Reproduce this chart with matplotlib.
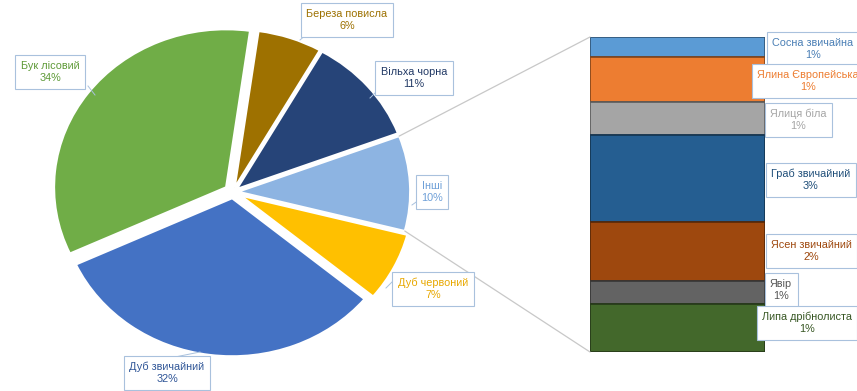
import numpy as np
import matplotlib
from matplotlib import pyplot as plt
from matplotlib.patches import ConnectionPatch
import matplotlib.colors as mcolors

matplotlib.rcParams['font.family'] = ['Liberation Sans', 'DejaVu Sans']
matplotlib.rcParams['font.size'] = 7.8

# pie: main species, clockwise from the top
pie_names = ['Береза повисла', 'Вільха чорна', 'Інші', 'Дуб червоний',
             'Дуб звичайний', 'Бук лісовий']
pie_main = [6, 11, None, 7, 32, 34]
pie_colors = ['#9E7100', '#264478', '#8DB4E2', '#FFC000', '#4472C4', '#70AD47']
pie_text = ['#9C7000', '#203864', '#6FA0D8', '#E8A800', '#2F5597', '#5E9A37']

# bar: species grouped into "Інші", top to bottom
bar_names = ['Сосна звичайна', 'Ялина Європейська', 'Ялиця біла',
             'Граб звичайний', 'Ясен звичайний', 'Явір', 'Липа дрібнолиста']
bar_vals = [0.6, 1.4, 1.0, 2.7, 1.8, 0.7, 1.49]
bar_colors = ['#5B9BD5', '#ED7D31', '#A5A5A5', '#255E91', '#9E480E',
              '#636363', '#43682B']
bar_text = ['#4A7FB5', '#ED7D31', '#A5A5A5', '#1F4E79', '#9E480E',
            '#555555', '#375623']

others = sum(bar_vals)
pie_vals = [others if v is None else v for v in pie_main]
total = sum(pie_vals)

W, H = 857, 391
fig = plt.figure(figsize=(W / 100, H / 100), dpi=100)

# pie axes, stretched a little so the pie reads as tilted
cx, cy, rx, ry = 233, 192, 172, 158
lim = 1.2
pie_ax = fig.add_axes([(cx - lim * rx) / W, (H - cy - lim * ry) / H,
                       2 * lim * rx / W, 2 * lim * ry / H])
explode = [0.03, 0.03, 0.03, 0.05, 0.04, 0.05]
wedges, _ = pie_ax.pie(pie_vals, colors=pie_colors, startangle=82,
                       counterclock=False, explode=explode,
                       wedgeprops=dict(edgecolor='white', linewidth=1.5))
pie_ax.set_aspect('auto')
pie_ax.set_xlim(-lim, lim)
pie_ax.set_ylim(-lim, lim)

# stacked bar for the "Інші" group
bx0, bx1, by0, by1 = 590, 765, 37, 352
bar_ax = fig.add_axes([bx0 / W, (H - by1) / H, (bx1 - bx0) / W, (by1 - by0) / H])
bottom = 0
for v, c in zip(bar_vals, bar_colors):
    dark = np.array(mcolors.to_rgb(c)) * 0.55
    bar_ax.bar(0, v, bottom=bottom, width=1, color=c, edgecolor=dark,
               linewidth=1.2)
    bottom += v
bar_ax.set_xlim(-0.5, 0.5)
bar_ax.set_ylim(others, 0)
bar_ax.axis('off')

# connector lines from the "Інші" wedge to the bar
w = wedges[2]
cxo, cyo = w.center
for ang, yb in [(w.theta2, 0), (w.theta1, others)]:
    px = cxo + w.r * np.cos(np.radians(ang))
    py = cyo + w.r * np.sin(np.radians(ang))
    con = ConnectionPatch(xyA=(px, py), coordsA=pie_ax.transData,
                          xyB=(-0.5, yb), coordsB=bar_ax.transData,
                          color='#C8C8C8', linewidth=0.9)
    fig.add_artist(con)

# overlay in pixel coordinates for the data labels
ax = fig.add_axes([0, 0, 1, 1], zorder=5)
ax.set_xlim(0, W)
ax.set_ylim(H, 0)
ax.axis('off')

box = dict(boxstyle='square,pad=0.5', facecolor='white',
           edgecolor='#A9C1DD', linewidth=0.8)

pie_pos = [(347, 20), (414, 78), (432, 192), (433, 289), (167, 373), (50, 72)]
pie_lead = [((308, 33), (300, 40)), ((376, 92), (370, 98)), ((419, 200), (412, 205)),
            ((392, 282), (386, 288)), ((170, 358), (200, 352)), ((88, 86), (95, 95))]
for name, v, (x, y), tc, (p0, p1) in zip(pie_names, pie_vals, pie_pos,
                                         pie_text, pie_lead):
    ax.plot([p0[0], p1[0]], [p0[1], p1[1]], color='#A9C1DD', linewidth=0.7)
    ax.text(x, y, f'{name}\n{v / total * 100:.0f}%', ha='center', va='center',
            color=tc, bbox=box, linespacing=1.3)

bar_pos = [(772, 49), (757, 81), (770, 120), (771, 180), (771, 251),
           (770, 290), (762, 323)]
for name, v, (x, y), tc in zip(bar_names, bar_vals, bar_pos, bar_text):
    pct = f'{v / total * 100:.0f}%'
    ax.text(x, y, f'{name}\n{pct}', ha='left', va='center', color=tc,
            bbox=box, linespacing=1.3, multialignment='center')

fig.savefig('out.png', dpi=100)
